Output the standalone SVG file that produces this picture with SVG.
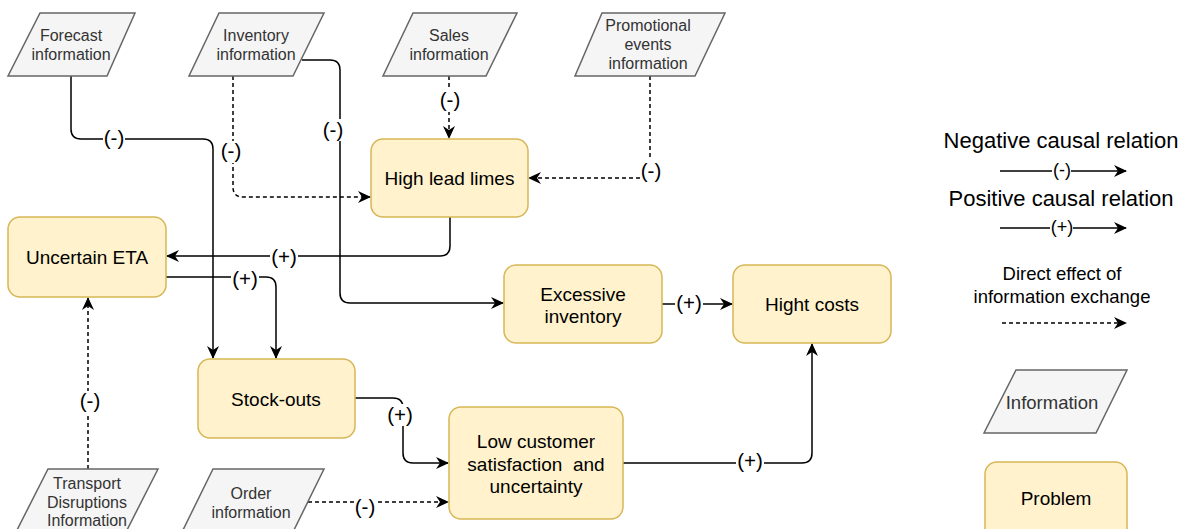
<svg xmlns="http://www.w3.org/2000/svg" width="1183" height="529" viewBox="0 0 1183 529">
  <defs>
    <marker id="arrow" markerUnits="userSpaceOnUse" markerWidth="14" markerHeight="12" viewBox="0 0 14 12" refX="12" refY="6" orient="auto">
      <path d="M0,0 L13,6 L0,12 L4,6 Z" fill="#000"/>
    </marker>
    <style>
      .info { fill: #f5f5f5; stroke: #666666; stroke-width: 1.5; }
      .info-text { font-family: "Liberation Sans", Arial, sans-serif; font-size: 16px; fill: #333333; text-anchor: middle; dominant-baseline: central; }
      .problem { fill: #fff2cc; stroke: #d6b656; stroke-width: 1.5; }
      .problem-text { font-family: "Liberation Sans", Arial, sans-serif; font-size: 19px; fill: #000; text-anchor: middle; dominant-baseline: central; }
      .edge { fill: none; stroke: #000; stroke-width: 1.5; marker-end: url(#arrow); }
      .dashed { stroke-dasharray: 4 3; }
      .lbl-bg { fill: #fff; }
      .lbl { font-family: "Liberation Sans", Arial, sans-serif; font-size: 20.5px; fill: #000; text-anchor: middle; dominant-baseline: central; }
      .legend-text { font-family: "Liberation Sans", Arial, sans-serif; font-size: 22px; fill: #000; text-anchor: middle; dominant-baseline: central; }
      .legend-small { font-family: "Liberation Sans", Arial, sans-serif; font-size: 18.5px; fill: #000; text-anchor: middle; dominant-baseline: central; }
      .legend-lbl { font-family: "Liberation Sans", Arial, sans-serif; font-size: 18px; fill: #000; text-anchor: middle; dominant-baseline: central; }
    </style>
  </defs>

  <rect width="1183" height="529" fill="#ffffff"/>

  <!-- connectors -->
  <g id="connectors">
    <!-- Forecast information -> Stock-outs -->
    <path class="edge" d="M71,76 V129 Q71,139 81,139 H203 Q213,139 213,149 V358"/>
    <rect class="lbl-bg" x="103" y="128" width="22" height="22"/>
    <text class="lbl" x="114" y="137">(-)</text>

    <!-- Inventory information -> High lead limes (information exchange) -->
    <path class="edge dashed" d="M233,76 V187 Q233,197 243,197 H370"/>
    <rect class="lbl-bg" x="220" y="141" width="22" height="22"/>
    <text class="lbl" x="231" y="150">(-)</text>

    <!-- Inventory information -> Excessive inventory -->
    <path class="edge" d="M302,60 H330 Q340,60 340,70 V293 Q340,303 350,303 H503"/>
    <rect class="lbl-bg" x="323" y="119" width="22" height="22"/>
    <text class="lbl" x="333" y="129">(-)</text>

    <!-- Sales information -> High lead limes -->
    <path class="edge dashed" d="M449,76 V138"/>
    <rect class="lbl-bg" x="439" y="90" width="22" height="22"/>
    <text class="lbl" x="450" y="99">(-)</text>

    <!-- Promotional events information -> High lead limes -->
    <path class="edge dashed" d="M650,76 V178 H529"/>
    <rect class="lbl-bg" x="640" y="160" width="22" height="22"/>
    <text class="lbl" x="651" y="170">(-)</text>

    <!-- High lead limes -> Uncertain ETA -->
    <path class="edge" d="M450,217 V246 Q450,256 440,256 H167"/>
    <rect class="lbl-bg" x="270" y="246" width="28" height="22"/>
    <text class="lbl" x="284" y="256">(+)</text>

    <!-- Uncertain ETA -> Stock-outs -->
    <path class="edge" d="M166,277 H266 Q276,277 276,287 V358"/>
    <rect class="lbl-bg" x="231" y="268" width="28" height="22"/>
    <text class="lbl" x="245" y="278">(+)</text>

    <!-- Stock-outs -> Low customer satisfaction -->
    <path class="edge" d="M355,398 H393 Q403,398 403,408 V453 Q403,463 413,463 H448"/>
    <rect class="lbl-bg" x="386" y="404" width="28" height="22"/>
    <text class="lbl" x="400" y="414">(+)</text>

    <!-- Order information -> Low customer satisfaction -->
    <path class="edge dashed" d="M308,502 H448"/>
    <rect class="lbl-bg" x="354" y="497" width="22" height="22"/>
    <text class="lbl" x="365" y="506">(-)</text>

    <!-- Excessive inventory -> Hight costs -->
    <path class="edge" d="M662,304 H732"/>
    <rect class="lbl-bg" x="675" y="293" width="28" height="22"/>
    <text class="lbl" x="689" y="302">(+)</text>

    <!-- Low customer satisfaction -> Hight costs -->
    <path class="edge" d="M623,463 H802 Q812,463 812,453 V344"/>
    <rect class="lbl-bg" x="736" y="450" width="28" height="22"/>
    <text class="lbl" x="750" y="460">(+)</text>

    <!-- Transport disruptions information -> Uncertain ETA -->
    <path class="edge dashed" d="M88,469 V298"/>
    <rect class="lbl-bg" x="79" y="391" width="22" height="22"/>
    <text class="lbl" x="90" y="400">(-)</text>
  </g>

  <!-- information nodes -->
  <g id="forecast-information">
    <polygon class="info" points="40,13 135,13 107,76 8,76"/>
    <text class="info-text" x="71" y="35">Forecast</text>
    <text class="info-text" x="71" y="54">information</text>
  </g>
  <g id="inventory-information">
    <polygon class="info" points="219,13 324,13 293,76 189,76"/>
    <text class="info-text" x="256" y="35">Inventory</text>
    <text class="info-text" x="256" y="54">information</text>
  </g>
  <g id="sales-information">
    <polygon class="info" points="413,13 517,13 486,76 383,76"/>
    <text class="info-text" x="449" y="35">Sales</text>
    <text class="info-text" x="449" y="54">information</text>
  </g>
  <g id="promotional-events-information">
    <polygon class="info" points="602,13 725,13 695,76 575,76"/>
    <text class="info-text" x="648" y="25">Promotional</text>
    <text class="info-text" x="648" y="44">events</text>
    <text class="info-text" x="648" y="63">information</text>
  </g>
  <g id="transport-disruptions-information">
    <polygon class="info" points="48,469 158,469 126,532 16,532"/>
    <text class="info-text" x="87" y="483">Transport</text>
    <text class="info-text" x="87" y="502">Disruptions</text>
    <text class="info-text" x="87" y="520">Information</text>
  </g>
  <g id="order-information">
    <polygon class="info" points="213,469 324,469 293,532 182,532"/>
    <text class="info-text" x="251" y="493">Order</text>
    <text class="info-text" x="251" y="512">information</text>
  </g>

  <!-- problem nodes -->
  <g id="uncertain-eta">
    <rect class="problem" x="8" y="217" width="158" height="80" rx="12"/>
    <text class="problem-text" x="87" y="257">Uncertain ETA</text>
  </g>
  <g id="high-lead-limes">
    <rect class="problem" x="371" y="139" width="157" height="78" rx="12"/>
    <text class="problem-text" x="449.5" y="178">High lead limes</text>
  </g>
  <g id="excessive-inventory">
    <rect class="problem" x="504" y="265" width="158" height="78" rx="12"/>
    <text class="problem-text" x="583" y="294">Excessive</text>
    <text class="problem-text" x="583" y="316">inventory</text>
  </g>
  <g id="hight-costs">
    <rect class="problem" x="733" y="265" width="158" height="78" rx="12"/>
    <text class="problem-text" x="812" y="304">Hight costs</text>
  </g>
  <g id="stock-outs">
    <rect class="problem" x="198" y="359" width="157" height="79" rx="12"/>
    <text class="problem-text" x="276" y="399">Stock-outs</text>
  </g>
  <g id="low-customer-satisfaction">
    <rect class="problem" x="449" y="407" width="174" height="112" rx="12"/>
    <text class="problem-text" x="536" y="441">Low customer</text>
    <text class="problem-text" x="536" y="464" xml:space="preserve">satisfaction  and</text>
    <text class="problem-text" x="536" y="486">uncertainty</text>
  </g>

  <!-- legend -->
  <g id="legend">
    <text class="legend-text" x="1061" y="140">Negative causal relation</text>
    <path class="edge" d="M1000,171 H1126"/>
    <rect class="lbl-bg" x="1052" y="161" width="19" height="20"/>
    <text class="legend-lbl" x="1062" y="170">(-)</text>

    <text class="legend-text" x="1061" y="198">Positive causal relation</text>
    <path class="edge" d="M1000,228 H1126"/>
    <rect class="lbl-bg" x="1050" y="218" width="23" height="20"/>
    <text class="legend-lbl" x="1062" y="227">(+)</text>

    <text class="legend-small" x="1062" y="273">Direct effect of</text>
    <text class="legend-small" x="1062" y="296">information exchange</text>
    <path class="edge dashed" d="M1002,323 H1126"/>

    <g id="legend-information">
      <polygon class="info" points="1016,370 1127,370 1096,433 984,433"/>
      <text class="info-text" x="1052" y="402" style="font-size:18.5px">Information</text>
    </g>
    <g id="legend-problem">
      <rect class="problem" x="985" y="462" width="142" height="78" rx="12"/>
      <text class="problem-text" x="1056" y="498">Problem</text>
    </g>
  </g>
</svg>
